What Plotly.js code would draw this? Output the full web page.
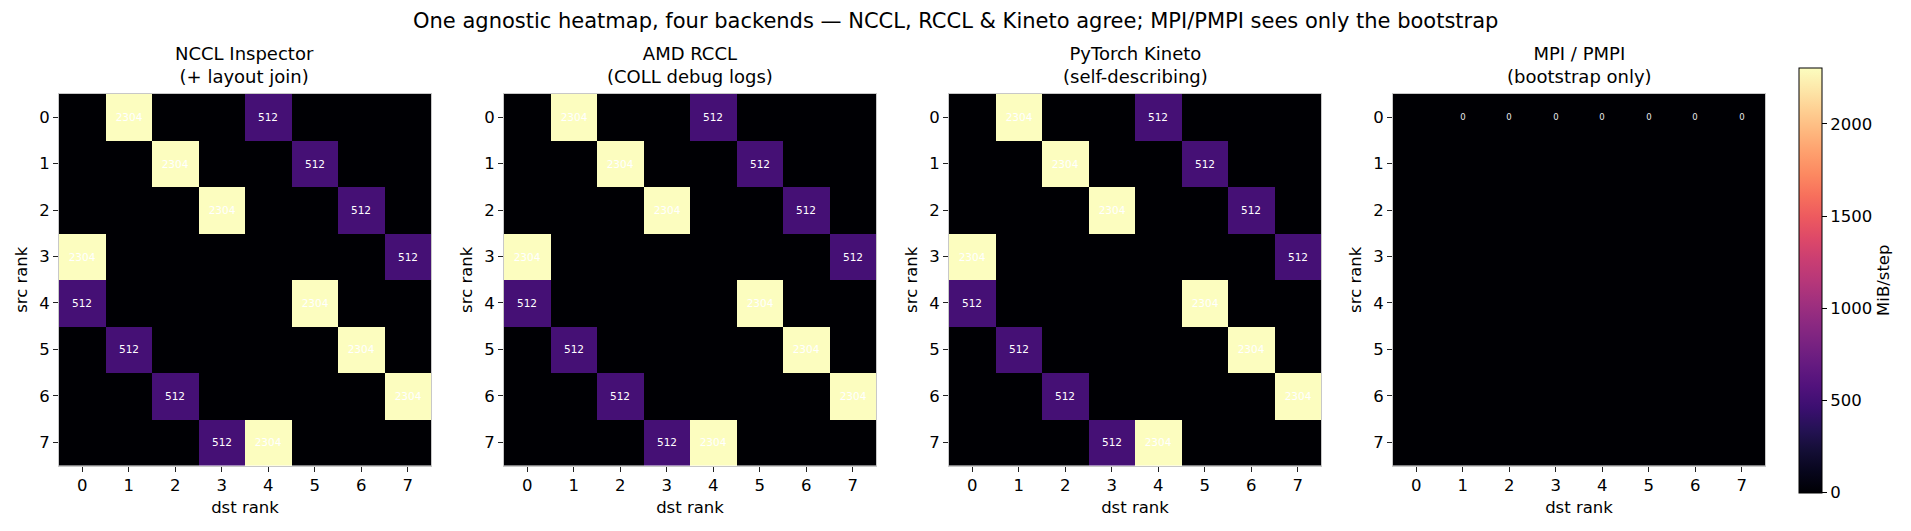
<!DOCTYPE html>
<html>
<head>
<meta charset="utf-8">
<script src="https://cdn.plot.ly/plotly-3.0.1.min.js"></script>
<style>html,body{margin:0;padding:0;background:#fff;}#chart{width:1911px;height:531px;}</style>
</head>
<body>
<div id="chart"></div>
<script>
// ---- data ----
const ranks = [0, 1, 2, 3, 4, 5, 6, 7];
const rankLabels = ['0', '1', '2', '3', '4', '5', '6', '7'];
const panelTitles = [
  'NCCL Inspector<br>(+ layout join)',
  'AMD RCCL<br>(COLL debug logs)',
  'PyTorch Kineto<br>(self-describing)',
  'MPI / PMPI<br>(bootstrap only)'
];
// MiB/step, rows = src rank, cols = dst rank
const ncclMatrix = [
  [0, 2304, 0, 0, 512, 0, 0, 0],
  [0, 0, 2304, 0, 0, 512, 0, 0],
  [0, 0, 0, 2304, 0, 0, 512, 0],
  [2304, 0, 0, 0, 0, 0, 0, 512],
  [512, 0, 0, 0, 0, 2304, 0, 0],
  [0, 512, 0, 0, 0, 0, 2304, 0],
  [0, 0, 512, 0, 0, 0, 0, 2304],
  [0, 0, 0, 512, 2304, 0, 0, 0]
];
const rcclMatrix = [
  [0, 2304, 0, 0, 512, 0, 0, 0],
  [0, 0, 2304, 0, 0, 512, 0, 0],
  [0, 0, 0, 2304, 0, 0, 512, 0],
  [2304, 0, 0, 0, 0, 0, 0, 512],
  [512, 0, 0, 0, 0, 2304, 0, 0],
  [0, 512, 0, 0, 0, 0, 2304, 0],
  [0, 0, 512, 0, 0, 0, 0, 2304],
  [0, 0, 0, 512, 2304, 0, 0, 0]
];
const kinetoMatrix = [
  [0, 2304, 0, 0, 512, 0, 0, 0],
  [0, 0, 2304, 0, 0, 512, 0, 0],
  [0, 0, 0, 2304, 0, 0, 512, 0],
  [2304, 0, 0, 0, 0, 0, 0, 512],
  [512, 0, 0, 0, 0, 2304, 0, 0],
  [0, 512, 0, 0, 0, 0, 2304, 0],
  [0, 0, 512, 0, 0, 0, 0, 2304],
  [0, 0, 0, 512, 2304, 0, 0, 0]
];
// bootstrap traffic only: tiny volumes from rank 0 (shown as "0")
const mpiMatrix = [
  [0, 0.02, 0.02, 0.02, 0.02, 0.02, 0.02, 0.02],
  [0, 0, 0, 0, 0, 0, 0, 0],
  [0, 0, 0, 0, 0, 0, 0, 0],
  [0, 0, 0, 0, 0, 0, 0, 0],
  [0, 0, 0, 0, 0, 0, 0, 0],
  [0, 0, 0, 0, 0, 0, 0, 0],
  [0, 0, 0, 0, 0, 0, 0, 0],
  [0, 0, 0, 0, 0, 0, 0, 0]
];
const colorMax = 2304;
const colorbarTicks = [0, 500, 1000, 1500, 2000];

// ---- styling ----
const W = 1911, H = 531;
const FONT = 'DejaVu Sans, Liberation Sans, sans-serif';
const magma = [
  [0.00, '#000004'], [0.05, '#07061c'], [0.10, '#140e36'], [0.15, '#251255'],
  [0.20, '#3b0f70'], [0.25, '#51127c'], [0.30, '#641a80'], [0.35, '#782281'],
  [0.40, '#8c2981'], [0.45, '#a1307e'], [0.50, '#b73779'], [0.55, '#ca3e72'],
  [0.60, '#de4968'], [0.65, '#ed5a5f'], [0.70, '#f7705c'], [0.75, '#fc8961'],
  [0.80, '#fe9f6d'], [0.85, '#feb77e'], [0.90, '#fecf92'], [0.95, '#fde7a9'],
  [1.00, '#fcfdbf']
];
const matrices = [ncclMatrix, rcclMatrix, kinetoMatrix, mpiMatrix];
const panelLeft = [59, 504, 949, 1393];
const panelWidth = 372;
const panelTop = 94, panelBottom = 465.5;
const TICK = 16.5;

const traces = [];
const layout = {
  width: W, height: H,
  margin: {l: 0, r: 0, t: 0, b: 0},
  paper_bgcolor: '#fff', plot_bgcolor: '#fff',
  font: {family: FONT, color: '#000', size: TICK},
  showlegend: false,
  coloraxis: {
    colorscale: magma, cmin: 0, cmax: colorMax,
    colorbar: {
      x: 1799 / W, xanchor: 'left', xpad: 0,
      y: 1 - 492.7 / H, yanchor: 'bottom', ypad: 0,
      len: (492.7 - 67.3) / H, lenmode: 'fraction',
      thickness: 23, thicknessmode: 'pixels',
      outlinewidth: 1, outlinecolor: '#000',
      tickmode: 'array', tickvals: colorbarTicks,
      ticks: 'outside', ticklen: 5, tickcolor: '#000', tickwidth: 1,
      tickfont: {family: FONT, size: TICK, color: '#000'},
      title: {text: 'MiB/step', side: 'right', font: {family: FONT, size: TICK, color: '#000'}}
    }
  },
  annotations: [
    {text: 'One agnostic heatmap, four backends — NCCL, RCCL & Kineto agree; MPI/PMPI sees only the bootstrap',
     x: 0.5, y: 1 - 21 / H, xref: 'paper', yref: 'paper', xanchor: 'center', yanchor: 'middle',
     showarrow: false, font: {family: FONT, size: 21, color: '#000'}}
  ]
};

matrices.forEach((m, i) => {
  const n = i + 1;
  const xa = n === 1 ? 'x' : 'x' + n;
  const ya = n === 1 ? 'y' : 'y' + n;
  const text = m.map(row => row.map(v => (v > 0 ? String(Math.round(v)) : '')));
  traces.push({
    type: 'heatmap',
    z: m, x: ranks, y: ranks,
    xaxis: xa, yaxis: ya,
    coloraxis: 'coloraxis',
    text: text, texttemplate: '%{text}',
    textfont: {family: FONT, size: i === 3 ? 8.5 : 10.5, color: i === 3 ? '#e8e8e8' : '#ffffff'},
    xgap: 0, ygap: 0,
    hoverinfo: 'x+y+z'
  });
  const axCommon = {
    range: [-0.5, 7.5],
    tickmode: 'array', tickvals: ranks, ticktext: rankLabels,
    ticks: 'outside', ticklen: 5, tickwidth: 1, tickcolor: '#222',
    tickfont: {family: FONT, size: TICK, color: '#000'},
    showgrid: false, zeroline: false,
    showline: true, linecolor: '#c8c8c8', linewidth: 1, mirror: true,
    fixedrange: true
  };
  layout[n === 1 ? 'xaxis' : 'xaxis' + n] = Object.assign({}, axCommon, {
    domain: [panelLeft[i] / W, (panelLeft[i] + panelWidth) / W],
    anchor: ya,
    title: {text: 'dst rank', font: {family: FONT, size: TICK, color: '#000'}, standoff: 7}
  });
  layout[n === 1 ? 'yaxis' : 'yaxis' + n] = Object.assign({}, axCommon, {
    range: [7.5, -0.5],
    domain: [1 - panelBottom / H, 1 - panelTop / H],
    anchor: xa,
    title: {text: 'src rank', font: {family: FONT, size: TICK, color: '#000'}, standoff: 7}
  });
  layout.annotations.push({
    text: panelTitles[i],
    x: (panelLeft[i] + panelWidth / 2) / W, y: 1 - (panelTop - 5) / H,
    xref: 'paper', yref: 'paper', xanchor: 'center', yanchor: 'bottom',
    showarrow: false, font: {family: FONT, size: 18, color: '#000'}
  });
});

Plotly.newPlot('chart', traces, layout, {displayModeBar: false, staticPlot: true});
</script>
</body>
</html>
